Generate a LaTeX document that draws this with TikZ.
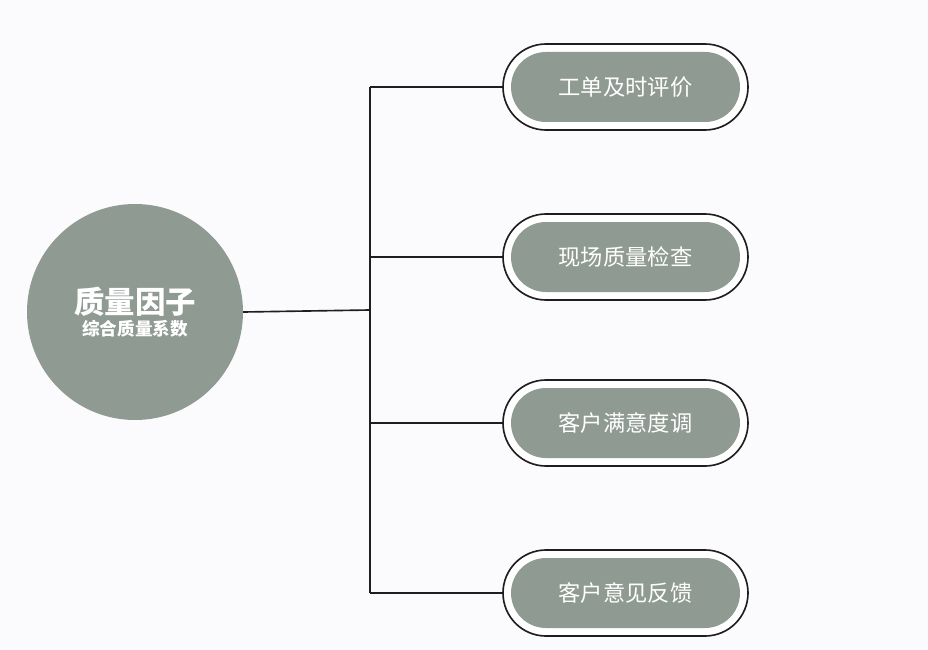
\documentclass[tikz,border=0pt]{standalone}
\usepackage{fontspec}
\newfontfamily\cjk{Noto Sans CJK SC}
\definecolor{factorGray}{RGB}{143, 154, 146}
\definecolor{lineDark}{RGB}{30, 30, 30}
\definecolor{bgColour}{RGB}{251, 250, 252}
\tikzset{
    pillOuter/.style={
        rectangle,
        rounded corners=43*0.03cm,
        draw=lineDark,
        line width=1.4pt,
        fill=white,
        minimum width=245*0.03cm,
        minimum height=86*0.03cm,
    },
    pillInner/.style={
        rectangle,
        rounded corners=35*0.03cm,
        fill=factorGray,
        minimum width=229*0.03cm,
        minimum height=70*0.03cm,
        text=white,
        font=\cjk\fontsize{19pt}{21pt}\selectfont,
    },
    branch/.style={
        draw=lineDark,
        line width=1.4pt,
    },
}
\begin{document}
\begin{tikzpicture}[x=0.03cm, y=-0.03cm]
    \fill[bgColour] (0,0) rectangle (928,650);
    \useasboundingbox (0,0) rectangle (928,650);

    % central factor
    \node[circle, fill=factorGray, minimum size=216*0.03cm, text=white, align=center, inner sep=0pt]
        (factor) at (135,312) {{\cjk\bfseries\fontsize{26pt}{32pt}\selectfont 质量因子}\\[2pt]
        {\cjk\bfseries\fontsize{15pt}{18pt}\selectfont 综合质量系数}};

    \coordinate (hub) at (370,310);
    \coordinate (top) at (370,87);
    \coordinate (bottom) at (370,593);

    % sub-factors
    \foreach \y/\name/\txt in {87/timely/工单及时评价, 257/onsite/现场质量检查,
        423/survey/客户满意度调, 593/feedback/客户意见反馈} {
        \node[pillOuter] (\name) at (625.5,\y) {};
        \node[pillInner] (\name-in) at (625.5,\y) {\txt};
        \coordinate (\name-j) at (370,\y);
        \draw[branch] (\name-j) -- (\name.west);
    }

    \draw[branch] (factor.east) -- (hub);
    \draw[branch] (top) -- (bottom);
\end{tikzpicture}
\end{document}
